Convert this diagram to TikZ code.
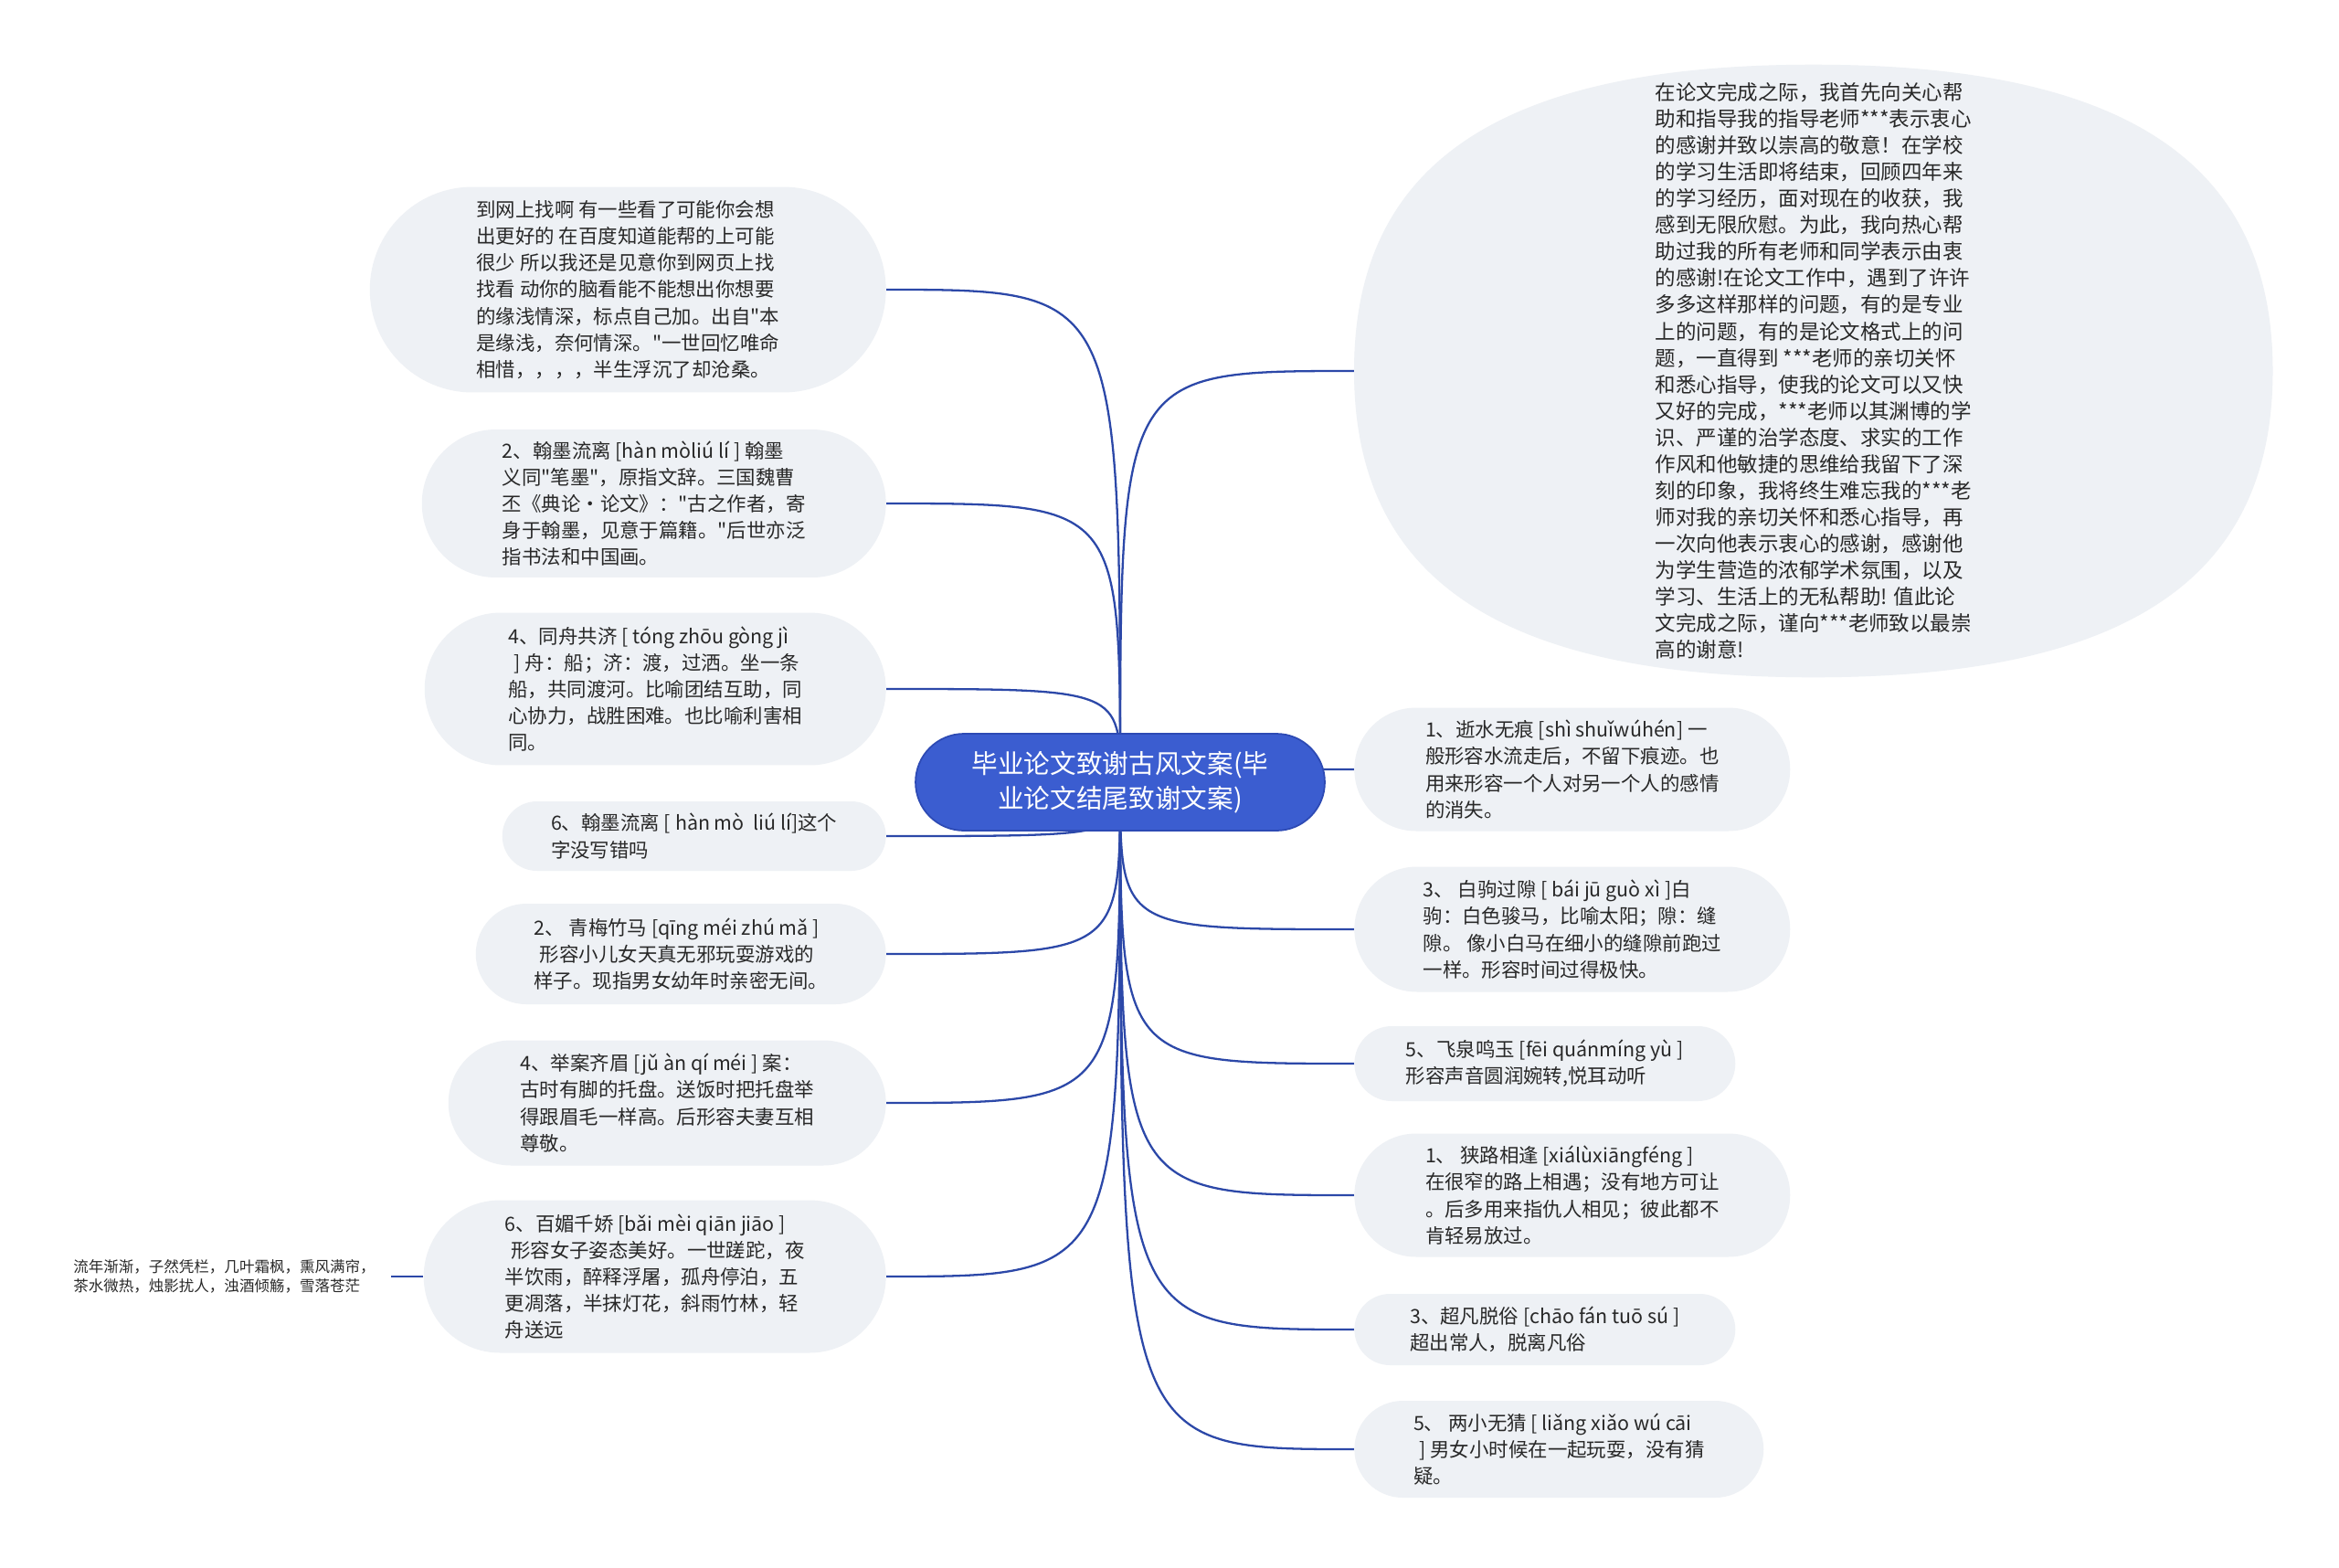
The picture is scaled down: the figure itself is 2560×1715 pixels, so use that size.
\documentclass[tikz,border=0pt]{standalone}
\usepackage{fontspec}
\setmainfont{Noto Sans CJK SC}[Ligatures=TeXOff]
\usepackage{tikz}
\usetikzlibrary{shapes.misc,shapes.geometric,backgrounds}
\definecolor{rootblue}{RGB}{59,93,208}
\definecolor{rootline}{RGB}{45,74,180}
\definecolor{linkblue}{RGB}{44,72,168}
\definecolor{leafgray}{RGB}{238,241,245}
\definecolor{textgray}{RGB}{40,40,40}
\tikzset{
 root/.style={rounded rectangle, fill=rootblue, draw=rootline, line width=1pt, text=white, align=center, inner sep=0pt, font=\fontsize{16.3}{22}\selectfont},
 leaf/.style={rounded rectangle, fill=leafgray, text=textgray, align=left, inner sep=0pt, font=\fontsize{12.2}{16.6}\selectfont},
 oval/.style={ellipse, inner sep=0pt},
 note/.style={text=textgray, align=left, inner sep=0pt, font=\fontsize{9.4}{11.9}\selectfont},
 link/.style={linkblue, line width=1.3pt}
}

\begin{document}
\begin{tikzpicture}[x=0.02cm,y=-0.02cm]
\useasboundingbox (0,0) rectangle (2560,1715);

\node[root, minimum width=8.96cm, minimum height=2.12cm] (root) at (1226,856) {毕业论文致谢古风文案(毕\\业论文结尾致谢文案)};

\node[leaf, anchor=east, minimum width=11.3cm, minimum height=4.5cm] (L1) at (970,317) {到网上找啊 有一些看了可能你会想\\出更好的 在百度知道能帮的上可能\\很少 所以我还是见意你到网页上找\\找看 动你的脑看能不能想出你想要\\的缘浅情深，标点自己加。出自"本\\是缘浅，奈何情深。"一世回忆唯命\\相惜，，，，半生浮沉了却沧桑。};
\node[leaf, anchor=east, minimum width=10.16cm, minimum height=3.24cm] (L2) at (970,551) {2、翰墨流离 [hàn mòliú lí ] 翰墨\\义同"笔墨"，原指文辞。三国魏曹\\丕《典论·论文》："古之作者，寄\\身于翰墨，见意于篇籍。"后世亦泛\\指书法和中国画。};
\node[leaf, anchor=east, minimum width=10.1cm, minimum height=3.34cm] (L3) at (970,754) {4、同舟共济 [ tóng zhōu gòng jì\\\hspace{0.3em}] 舟：船；济：渡，过洒。坐一条\\船，共同渡河。比喻团结互助，同\\心协力，战胜困难。也比喻利害相\\同。};
\node[leaf, anchor=east, minimum width=8.4cm, minimum height=1.52cm] (L4) at (970,915) {6、翰墨流离 [ hàn mò\ \ liú lí]这个\\字没写错吗};
\node[leaf, anchor=east, minimum width=8.98cm, minimum height=2.2cm] (L5) at (970,1044) {2、 青梅竹马 [qīng méi zhú mǎ ]\\\hspace{0.3em}形容小儿女天真无邪玩耍游戏的\\样子。现指男女幼年时亲密无间。};
\node[leaf, anchor=east, minimum width=9.58cm, minimum height=2.74cm] (L6) at (970,1207) {4、举案齐眉 [jǔ àn qí méi ] 案：\\古时有脚的托盘。送饭时把托盘举\\得跟眉毛一样高。后形容夫妻互相\\尊敬。};
\node[leaf, anchor=east, minimum width=10.12cm, minimum height=3.34cm] (L7) at (970,1397) {6、百媚千娇 [bǎi mèi qiān jiāo ]\\\hspace{0.3em}形容女子姿态美好。一世蹉跎，夜\\半饮雨，醉释浮屠，孤舟停泊，五\\更凋落，半抹灯花，斜雨竹林，轻\\舟送远};
\node[note, anchor=east, inner xsep=0.34cm] (L8) at (428,1397) {流年渐渐，子然凭栏，几叶霜枫，熏风满帘，\\茶水微热，烛影扰人，浊酒倾觞，雪落苍茫};

\node[oval, anchor=west, minimum width=20.1cm, minimum height=13.4cm] (R1) at (1482,406) {};
\fill[leafgray] (R1.west) .. controls +(0,-228) and +(-342,0) .. (R1.north)
 .. controls +(342,0) and +(0,-228) .. (R1.east)
 .. controls +(0,228) and +(342,0) .. (R1.south)
 .. controls +(-342,0) and +(0,228) .. (R1.west) -- cycle;
\node[text=textgray, align=left, inner sep=0pt, font=\fontsize{12.8}{16.55}\selectfont] (R1text) at (R1.center) {在论文完成之际，我首先向关心帮\\助和指导我的指导老师***表示衷心\\的感谢并致以崇高的敬意！在学校\\的学习生活即将结束，回顾四年来\\的学习经历，面对现在的收获，我\\感到无限欣慰。为此，我向热心帮\\助过我的所有老师和同学表示由衷\\的感谢!在论文工作中，遇到了许许\\多多这样那样的问题，有的是专业\\上的问题，有的是论文格式上的问\\题，一直得到 ***老师的亲切关怀\\和悉心指导，使我的论文可以又快\\又好的完成，***老师以其渊博的学\\识、严谨的治学态度、求实的工作\\作风和他敏捷的思维给我留下了深\\刻的印象，我将终生难忘我的***老\\师对我的亲切关怀和悉心指导，再\\一次向他表示衷心的感谢，感谢他\\为学生营造的浓郁学术氛围，以及\\学习、生活上的无私帮助! 值此论\\文完成之际，谨向***老师致以最崇\\高的谢意!};
\node[leaf, anchor=west, minimum width=9.54cm, minimum height=2.7cm] (R2) at (1482,842) {1、逝水无痕 [shì shuǐwúhén] 一\\般形容水流走后，不留下痕迹。也\\用来形容一个人对另一个人的感情\\的消失。};
\node[leaf, anchor=west, minimum width=9.54cm, minimum height=2.74cm] (R3) at (1482,1017) {3、 白驹过隙 [ bái jū guò xì ]白\\驹：白色骏马，比喻太阳；隙：缝\\隙。 像小白马在细小的缝隙前跑过\\一样。形容时间过得极快。};
\node[leaf, anchor=west, minimum width=8.34cm, minimum height=1.64cm] (R4) at (1482,1164) {5、飞泉鸣玉 [fēi quánmíng yù ]\\形容声音圆润婉转,悦耳动听};
\node[leaf, anchor=west, minimum width=9.54cm, minimum height=2.7cm] (R5) at (1482,1308) {1、 狭路相逢 [xiálùxiāngféng ]\\在很窄的路上相遇；没有地方可让\\。后多用来指仇人相见；彼此都不\\肯轻易放过。};
\node[leaf, anchor=west, minimum width=8.34cm, minimum height=1.56cm] (R6) at (1482,1455) {3、超凡脱俗 [chāo fán tuō sú ]\\超出常人，脱离凡俗};
\node[leaf, anchor=west, minimum width=8.96cm, minimum height=2.12cm] (R7) at (1482,1586) {5、 两小无猜 [ liǎng xiǎo wú cāi\\\hspace{0.3em}] 男女小时候在一起玩耍，没有猜\\疑。};

\begin{scope}[on background layer]
\fill[white] (0,0) rectangle (2560,1715);
\foreach \n in {L1,L2,L3,L4,L5,L6,L7} {
 \draw[link] (root.center) .. controls (root.center |- \n.east) .. (\n.east);
}
\foreach \n in {R1,R2,R3,R4,R5,R6,R7} {
 \draw[link] (root.center) .. controls (root.center |- \n.west) .. (\n.west);
}
\draw[link] (L7.west) -- (L8.east);
\end{scope}
\end{tikzpicture}
\end{document}
